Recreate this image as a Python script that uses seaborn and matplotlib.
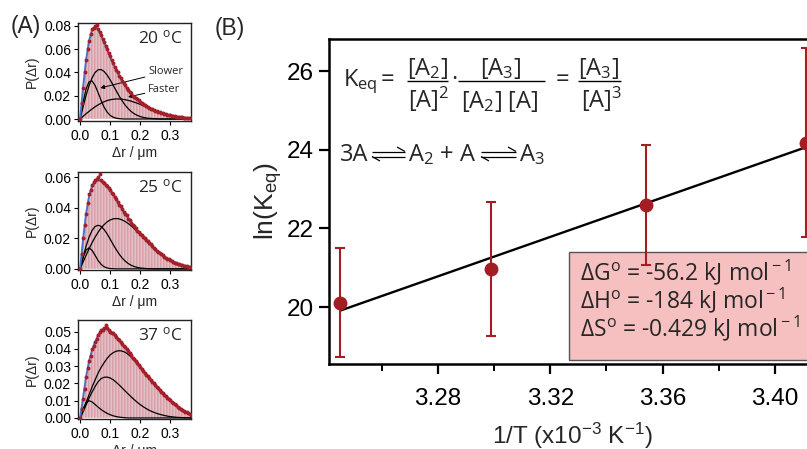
import numpy as np
import pandas as pd
import seaborn as sns
import matplotlib
matplotlib.use("Agg")
import matplotlib.pyplot as plt
from matplotlib.patches import Rectangle
from matplotlib.lines import Line2D

# ---------------------------------------------------------------- data
# Panel A: step-length histograms (bin width 0.005 um) and fitted curves
bin_centers = np.round(np.arange(0, 0.3725, 0.005), 3)
curve_x = np.round(np.arange(0, 0.375, 0.01), 2)

hist_20C = [0.000, 0.014, 0.027, 0.040, 0.051, 0.060, 0.067, 0.073, 0.077, 0.078,
            0.080, 0.081, 0.077, 0.075, 0.072, 0.069, 0.066, 0.063, 0.060, 0.057,
            0.054, 0.051, 0.048, 0.045, 0.042, 0.040, 0.037, 0.035, 0.033, 0.031,
            0.029, 0.027, 0.025, 0.023, 0.022, 0.020, 0.019, 0.018, 0.017, 0.016,
            0.015, 0.014, 0.013, 0.012, 0.011, 0.0104, 0.0097, 0.0090, 0.0084, 0.0078,
            0.0072, 0.0067, 0.0062, 0.0057, 0.0052, 0.0048, 0.0044, 0.0041, 0.0037, 0.0034,
            0.0031, 0.0029, 0.0026, 0.0024, 0.0021, 0.0019, 0.0017, 0.0016, 0.0014, 0.0012,
            0.0011, 0.0010, 0.0009, 0.0008, 0.0007]
fit_20C = [0, .0274, .0507, .0673, .0765, .0792, .0769, .0720, .0658, .0595,
           .0534, .0476, .0423, .0373, .0328, .0286, .0250, .0218, .0191, .0168,
           .0148, .0128, .0111, .0097, .0084, .0072, .0062, .0052, .0044, .0037,
           .0031, .0026, .0021, .0017, .0014, .0011, .0009, .0007]
comp_20C_a = [0, .0146, .0259, .0320, .0326, .0288, .0226, .0160, .0102, .0060,
              .0032, .0016, .0007, .0003, .0001, 0, 0, 0, 0, 0,
              0, 0, 0, 0, 0, 0, 0, 0, 0, 0, 0, 0, 0, 0, 0, 0, 0, 0]
comp_20C_b = [0, .0105, .0203, .0287, .0353, .0399, .0422, .0424, .0408, .0377,
              .0337, .0291, .0244, .0198, .0157, .0120, .0090, .0065, .0046, .0032,
              .0022, .0014, .0009, .0006, .0004, .0002, .0001, 0, 0, 0,
              0, 0, 0, 0, 0, 0, 0, 0]
comp_20C_c = [0, .0023, .0045, .0066, .0086, .0105, .0121, .0136, .0148, .0158,
              .0165, .0169, .0172, .0172, .0170, .0166, .0160, .0153, .0145, .0136,
              .0126, .0114, .0102, .0091, .0080, .0070, .0061, .0052, .0044, .0037,
              .0031, .0026, .0021, .0017, .0014, .0011, .0009, .0007]

hist_25C = [0.000, 0.010, 0.020, 0.029, 0.036, 0.043, 0.049, 0.052, 0.055, 0.057,
            0.058, 0.059, 0.060, 0.062, 0.058, 0.057, 0.056, 0.055, 0.054, 0.053,
            0.052, 0.050, 0.049, 0.047, 0.046, 0.044, 0.042, 0.041, 0.039, 0.037,
            0.036, 0.035, 0.033, 0.032, 0.030, 0.029, 0.028, 0.027, 0.025, 0.024,
            0.023, 0.022, 0.021, 0.020, 0.019, 0.018, 0.017, 0.016, 0.015, 0.014,
            0.013, 0.012, 0.011, 0.0103, 0.0095, 0.0088, 0.0081, 0.0074, 0.0068, 0.0062,
            0.0056, 0.0051, 0.0046, 0.0041, 0.0037, 0.0033, 0.0030, 0.0027, 0.0024, 0.0021,
            0.0019, 0.0017, 0.0015, 0.0013, 0.0012]
fit_25C = [0, .0197, .0362, .0478, .0545, .0575, .0581, .0577, .0562, .0544,
           .0518, .0490, .0458, .0426, .0393, .0363, .0334, .0307, .0281, .0256,
           .0232, .0210, .0188, .0167, .0147, .0127, .0110, .0095, .0081, .0068,
           .0056, .0046, .0037, .0030, .0024, .0019, .0015, .0012]
comp_25C_a = [0, .0074, .0124, .0138, .0121, .0089, .0055, .0030, .0014, .0006,
              .0002, .0001, 0, 0, 0, 0, 0, 0, 0, 0,
              0, 0, 0, 0, 0, 0, 0, 0, 0, 0, 0, 0, 0, 0, 0, 0, 0, 0]
comp_25C_b = [0, .0078, .0149, .0208, .0252, .0278, .0286, .0279, .0258, .0230,
              .0196, .0161, .0128, .0098, .0072, .0052, .0036, .0024, .0016, .0010,
              .0006, .0004, .0002, .0001, 0, 0, 0, 0, 0, 0,
              0, 0, 0, 0, 0, 0, 0, 0]
comp_25C_c = [0, .0045, .0089, .0132, .0172, .0208, .0240, .0268, .0290, .0308,
              .0320, .0328, .0330, .0328, .0321, .0311, .0298, .0283, .0265, .0246,
              .0226, .0206, .0186, .0166, .0147, .0127, .0110, .0095, .0081, .0068,
              .0056, .0046, .0037, .0030, .0024, .0019, .0015, .0012]

hist_37C = [0.000, 0.005, 0.011, 0.017, 0.024, 0.029, 0.033, 0.036, 0.040, 0.042,
            0.044, 0.046, 0.048, 0.050, 0.051, 0.051, 0.052, 0.054, 0.052, 0.051,
            0.050, 0.0495, 0.049, 0.048, 0.047, 0.046, 0.045, 0.044, 0.043, 0.042,
            0.041, 0.040, 0.039, 0.0375, 0.0365, 0.035, 0.034, 0.033, 0.0317, 0.0305,
            0.0295, 0.0284, 0.0273, 0.0262, 0.0252, 0.0241, 0.0231, 0.022, 0.021, 0.020,
            0.019, 0.018, 0.0171, 0.0161, 0.0152, 0.0143, 0.0135, 0.0126, 0.0118, 0.011,
            0.0102, 0.0095, 0.0087, 0.008, 0.0073, 0.0066, 0.006, 0.0054, 0.0048, 0.0042,
            0.0037, 0.0032, 0.0028, 0.0024, 0.002]
fit_37C = [0, .0120, .0240, .0330, .0395, .0440, .0480, .0505, .0520, .0520,
           .0505, .0490, .0470, .0450, .0430, .0410, .0390, .0365, .0340, .0317,
           .0295, .0273, .0252, .0231, .0210, .0190, .0171, .0152, .0135, .0118,
           .0102, .0087, .0073, .0060, .0048, .0037, .0028, .0020]
comp_37C_a = [0, .0053, .0089, .0100, .0093, .0078, .0063, .0049, .0037, .0027,
              .0019, .0013, .0008, .0005, .0003, .0001, 0, 0, 0, 0,
              0, 0, 0, 0, 0, 0, 0, 0, 0, 0, 0, 0, 0, 0, 0, 0, 0, 0]
comp_37C_b = [0, .0035, .0075, .0115, .0150, .0182, .0210, .0228, .0236, .0237,
              .0232, .0222, .0208, .0192, .0175, .0157, .0140, .0123, .0107, .0092,
              .0078, .0066, .0055, .0045, .0037, .0030, .0024, .0019, .0015, .0011,
              .0008, .0006, .0004, .0003, .0002, .0001, .0001, 0]
comp_37C_c = [0, .0045, .0090, .0135, .0180, .0220, .0260, .0293, .0320, .0345,
              .0365, .0378, .0387, .0390, .0388, .0381, .0369, .0354, .0336, .0315,
              .0293, .0271, .0250, .0230, .0209, .0189, .0170, .0151, .0134, .0117,
              .0101, .0086, .0072, .0059, .0047, .0037, .0028, .0020]

temperatures = ["20", "25", "37"]
hists = [hist_20C, hist_25C, hist_37C]
fits = [fit_20C, fit_25C, fit_37C]
components = [[comp_20C_a, comp_20C_b, comp_20C_c],
              [comp_25C_a, comp_25C_b, comp_25C_c],
              [comp_37C_a, comp_37C_b, comp_37C_c]]
yticks_A = [[0.00, 0.02, 0.04, 0.06, 0.08],
            [0.00, 0.02, 0.04, 0.06],
            [0.00, 0.01, 0.02, 0.03, 0.04, 0.05]]
ylims_A = [(-0.0017, 0.0823), (-0.0004, 0.0635), (-0.0006, 0.0568)]

# Panel B: van 't Hoff data
inv_T = [3.2452, 3.2987, 3.3540, 3.4112]        # 1/T in 10^-3 K^-1
lnK = [20.11, 20.97, 22.60, 24.18]
lnK_err = [1.38, 1.70, 1.52, 2.41]
xticks_B = [3.28, 3.32, 3.36, 3.40]
xminor_B = [3.26, 3.30, 3.34, 3.38, 3.42]
yticks_B = [20, 22, 24, 26]
thermo_lines = ["\u0394G$^{\\rm o}$ = -56.2 kJ mol$^{\\rm -1}$",
                "\u0394H$^{\\rm o}$ = -184 kJ mol$^{\\rm -1}$",
                "\u0394S$^{\\rm o}$ = -0.429 kJ mol$^{\\rm -1}$"]

# ---------------------------------------------------------------- style
sns.set_theme(style="ticks")
plt.rcParams["font.family"] = ["Liberation Sans", "DejaVu Sans"]
plt.rcParams["mathtext.fontset"] = "custom"
plt.rcParams["mathtext.rm"] = "Open Sans"
plt.rcParams["mathtext.it"] = "Open Sans:italic"
plt.rcParams["mathtext.bf"] = "Open Sans:bold"
plt.rcParams["mathtext.sf"] = "Liberation Sans"
plt.rcParams["axes.edgecolor"] = "black"
plt.rcParams["xtick.color"] = "black"
plt.rcParams["ytick.color"] = "black"

BAR = "#cf8c95"
DOT = "#a3202a"
BLUE = "#4a72c8"
RED = "#a51d24"
BOX = "#f7c0c0"
MYRIAD = ["Open Sans", "DejaVu Sans"]

W, H = 807, 449
fig = plt.figure(figsize=(W / 100, H / 100), dpi=100)


def fpos(px, py):
    return px / W, 1 - py / H


# ---------------------------------------------------------------- panel A
boxes_A = [(23, 121), (172, 269.5), (320, 419)]
for i in range(3):
    top, bot = boxes_A[i]
    ax = fig.add_axes([78 / W, 1 - bot / H, 113 / W, (bot - top) / H])
    df = pd.DataFrame({"dr": bin_centers, "p": hists[i]})
    sns.histplot(data=df, x="dr", weights="p", binwidth=0.005,
                 binrange=(-0.0025, 0.3725), ax=ax,
                 color=BAR, edgecolor="white", linewidth=0.25, alpha=1.0)
    for comp in components[i]:
        sns.lineplot(x=curve_x, y=comp, ax=ax, color="black", lw=0.9,
                     estimator=None, sort=False)
    sns.lineplot(x=curve_x, y=fits[i], ax=ax, color=BLUE, lw=1.4,
                 estimator=None, sort=False)
    sns.scatterplot(data=df, x="dr", y="p", ax=ax, color=DOT, s=8,
                    linewidth=0, zorder=5)
    ax.set_xlim(-0.007, 0.37)
    ax.set_ylim(*ylims_A[i])
    ax.set_xticks([0.0, 0.1, 0.2, 0.3])
    ax.set_xticklabels(["0.0", "0.1", "0.2", "0.3"])
    ax.set_yticks(yticks_A[i])
    ax.set_yticklabels([f"{v:.2f}" for v in yticks_A[i]])
    ax.tick_params(labelsize=10, length=3, width=0.8, pad=2, direction="out")
    ax.tick_params(axis="x", pad=3)
    for s in ax.spines.values():
        s.set_visible(True)
        s.set_linewidth(1.0)
        s.set_color("#222222")
    ax.set_ylabel("P(\u0394r)", fontsize=10, labelpad=4)
    ax.set_xlabel("\u0394r / \u03bcm", fontsize=10, labelpad=2)
    ax.text(0.93, 0.847, temperatures[i] + " $^{\\rm o}$C", transform=ax.transAxes,
            ha="right", va="center", fontsize=12.5, family=MYRIAD)
    if i == 0:
        ax.annotate("Slower", xy=(0.067, 0.0266), xytext=(0.227, 0.0403),
                    fontsize=8, family=MYRIAD, va="center",
                    arrowprops=dict(arrowstyle="-|>", color="black", lw=0.7,
                                    mutation_scale=6, shrinkA=0, shrinkB=0))
        ax.annotate("Faster", xy=(0.160, 0.0189), xytext=(0.227, 0.0257),
                    fontsize=8, family=MYRIAD, va="center",
                    arrowprops=dict(arrowstyle="-|>", color="black", lw=0.7,
                                    mutation_scale=6, shrinkA=0, shrinkB=0))

fig.text(*fpos(26, 27), "(A)", fontsize=16.5, ha="center", va="center")

# ---------------------------------------------------------------- panel B
axB = fig.add_axes([329 / W, 1 - 364 / H, (845 - 329) / W, 325 / H])
sns.regplot(x=inv_T, y=lnK, ax=axB, ci=None, scatter=False, color="black",
            line_kws={"lw": 1.7, "zorder": 3})
axB.errorbar(inv_T, lnK, yerr=lnK_err, fmt="o", ms=9, color=RED, ecolor=RED,
             elinewidth=1.5, capsize=3.5, capthick=1.5, zorder=4, clip_on=False)
axB.set_xlim(3.24118, 3.42494)
axB.set_ylim(18.551, 26.814)
axB.set_xticks(xticks_B)
axB.set_xticklabels([f"{v:.2f}" for v in xticks_B])
axB.set_xticks(xminor_B, minor=True)
axB.set_yticks(yticks_B)
axB.tick_params(axis="both", which="major", labelsize=17.5, length=7, width=1.6,
                direction="out")
axB.tick_params(axis="x", which="major", pad=10)
axB.tick_params(axis="y", which="major", pad=4)
axB.tick_params(axis="x", which="minor", length=5, width=1.4, direction="out")
for name in ["left", "top", "bottom"]:
    axB.spines[name].set_visible(True)
    axB.spines[name].set_linewidth(1.8)
    axB.spines[name].set_color("black")
axB.spines["right"].set_visible(False)

axB.set_ylabel("ln(K$_{\\mathsf{eq}}$)", fontsize=19, labelpad=2)
axB.set_xlabel("1/T (x10$^{\\mathsf{-3}}$ K$^{\\mathsf{-1}}$)", fontsize=17.5)
axB.xaxis.set_label_coords(0.471, -0.176)

axB.add_patch(Rectangle((0.465, 0.0123), 0.6, 0.332, transform=axB.transAxes,
                        facecolor=BOX, edgecolor="#555555", lw=1.0, zorder=2))
for k, line in enumerate(thermo_lines):
    axB.text(0.486, 0.283 - k * 0.086, line, transform=axB.transAxes,
             fontsize=16.5, family=MYRIAD, ha="left", va="center", zorder=3)

fig.text(*fpos(230, 28), "(B)", fontsize=16.5, ha="center", va="center")

# equilibrium constant expression
EQ = 17


def ftext(px, py, s, ha="center", size=EQ, family=MYRIAD):
    fig.text(*fpos(px, py), s, ha=ha, va="baseline", fontsize=size, family=family)


def fline(xs, ys, lw=1.0):
    fig.add_artist(Line2D([x / W for x in xs], [1 - y / H for y in ys],
                          transform=fig.transFigure, color="black", lw=lw,
                          solid_capstyle="butt"))


def harpoons(x0, x1, y_top, y_bot):
    # upper arrow to the right, lower arrow to the left
    fline([x0, x1], [y_top, y_top], lw=0.9)
    fline([x1 - 8, x1], [y_top - 4.5, y_top], lw=0.9)
    fline([x0, x1], [y_bot, y_bot], lw=0.9)
    fline([x0, x0 + 8], [y_bot, y_bot + 4.5], lw=0.9)


ftext(343, 86, "K$_{\\rm eq}$", ha="left")
ftext(387, 86, "=")
ftext(427, 75, "[A$_{\\rm 2}$]")
fline([407, 448], [80.7, 80.7])
ftext(429, 108, "[A]$^{\\rm 2}$")
ftext(454, 86, "\u00b7")
ftext(500, 75, "[A$_{\\rm 3}$]")
fline([458, 545], [80.7, 80.7])
ftext(500, 108, "[A$_{\\rm 2}$] [A]")
ftext(562, 86, "=")
ftext(598, 75, "[A$_{\\rm 3}$]")
fline([578, 621], [80.7, 80.7])
ftext(602, 108, "[A]$^{\\rm 3}$")

# reaction scheme
ftext(340, 161, "3A", ha="left")
harpoons(372, 405, 151.5, 156.5)
ftext(408, 161, "A$_{\\rm 2}$ + A", ha="left")
harpoons(481, 516, 151.5, 156.5)
ftext(519, 161, "A$_{\\rm 3}$", ha="left")

fig.savefig("out.png", dpi=100)
